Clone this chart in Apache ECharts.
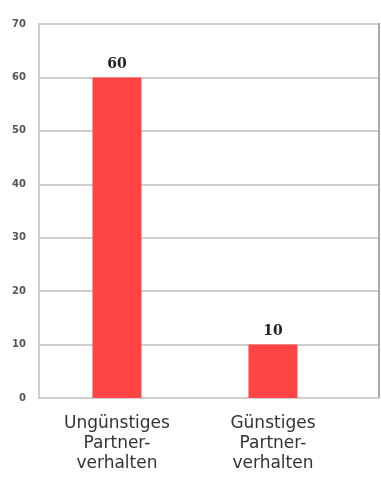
<!DOCTYPE html>
<html>
<head>
<meta charset="utf-8">
<script src="https://cdn.jsdelivr.net/npm/echarts@6/dist/echarts.min.js"></script>
<style>
  html, body { margin: 0; padding: 0; background: #fff; }
  #chart { width: 381px; height: 477px; }
</style>
</head>
<body>
<div id="chart"></div>
<script>
// data
const categories = ['Ungünstiges\nPartner-\nverhalten', 'Günstiges\nPartner-\nverhalten'];
const values = [60, 10];
const yTicks = [0, 10, 20, 30, 40, 50, 60, 70];

// bars sit at 0.5, 1.5 on a value x axis so the plot can run past the second category
const positions = categories.map((c, i) => i + 0.5);

const chart = echarts.init(document.getElementById('chart'));

chart.setOption({
  animation: false,
  grid: { left: 39, top: 24, right: 2, bottom: 79, show: true, borderColor: '#cfcfcf', borderWidth: 2 },
  xAxis: {
    type: 'value',
    min: 0,
    max: 2.18,
    splitLine: { show: false },
    axisLine: { show: true, lineStyle: { color: '#cfcfcf', width: 2 } },
    axisTick: { show: false },
    axisLabel: {
      customValues: positions,
      formatter: (v) => categories[Math.round(v - 0.5)] || '',
      fontFamily: 'DejaVu Sans',
      fontSize: 17,
      lineHeight: 20,
      color: '#333',
      margin: 16
    }
  },
  yAxis: [
    {
      type: 'value',
      min: yTicks[0],
      max: yTicks[yTicks.length - 1],
      interval: 10,
      axisLine: { show: true, lineStyle: { color: '#cfcfcf', width: 2 } },
      axisTick: { show: false },
      splitLine: { lineStyle: { color: '#cfcfcf', width: 2 } },
      axisLabel: {
        fontFamily: 'DejaVu Sans',
        fontSize: 10,
        fontWeight: 'bold',
        color: '#555',
        margin: 13
      }
    },
    {
      type: 'value',
      position: 'right',
      min: 0,
      max: 70,
      axisLine: { show: true, lineStyle: { color: '#a8a8a8', width: 2 } },
      axisTick: { show: false },
      axisLabel: { show: false },
      splitLine: { show: false }
    }
  ],
  series: [
    {
      type: 'bar',
      barWidth: 49,
      data: positions.map((p, i) => [p, values[i]]),
      itemStyle: { color: '#ff4444' },
      label: {
        show: true,
        position: 'top',
        distance: 6,
        fontFamily: 'DejaVu Serif',
        fontWeight: 'bold',
        fontSize: 14,
        color: '#222'
      }
    }
  ]
});
</script>
</body>
</html>
